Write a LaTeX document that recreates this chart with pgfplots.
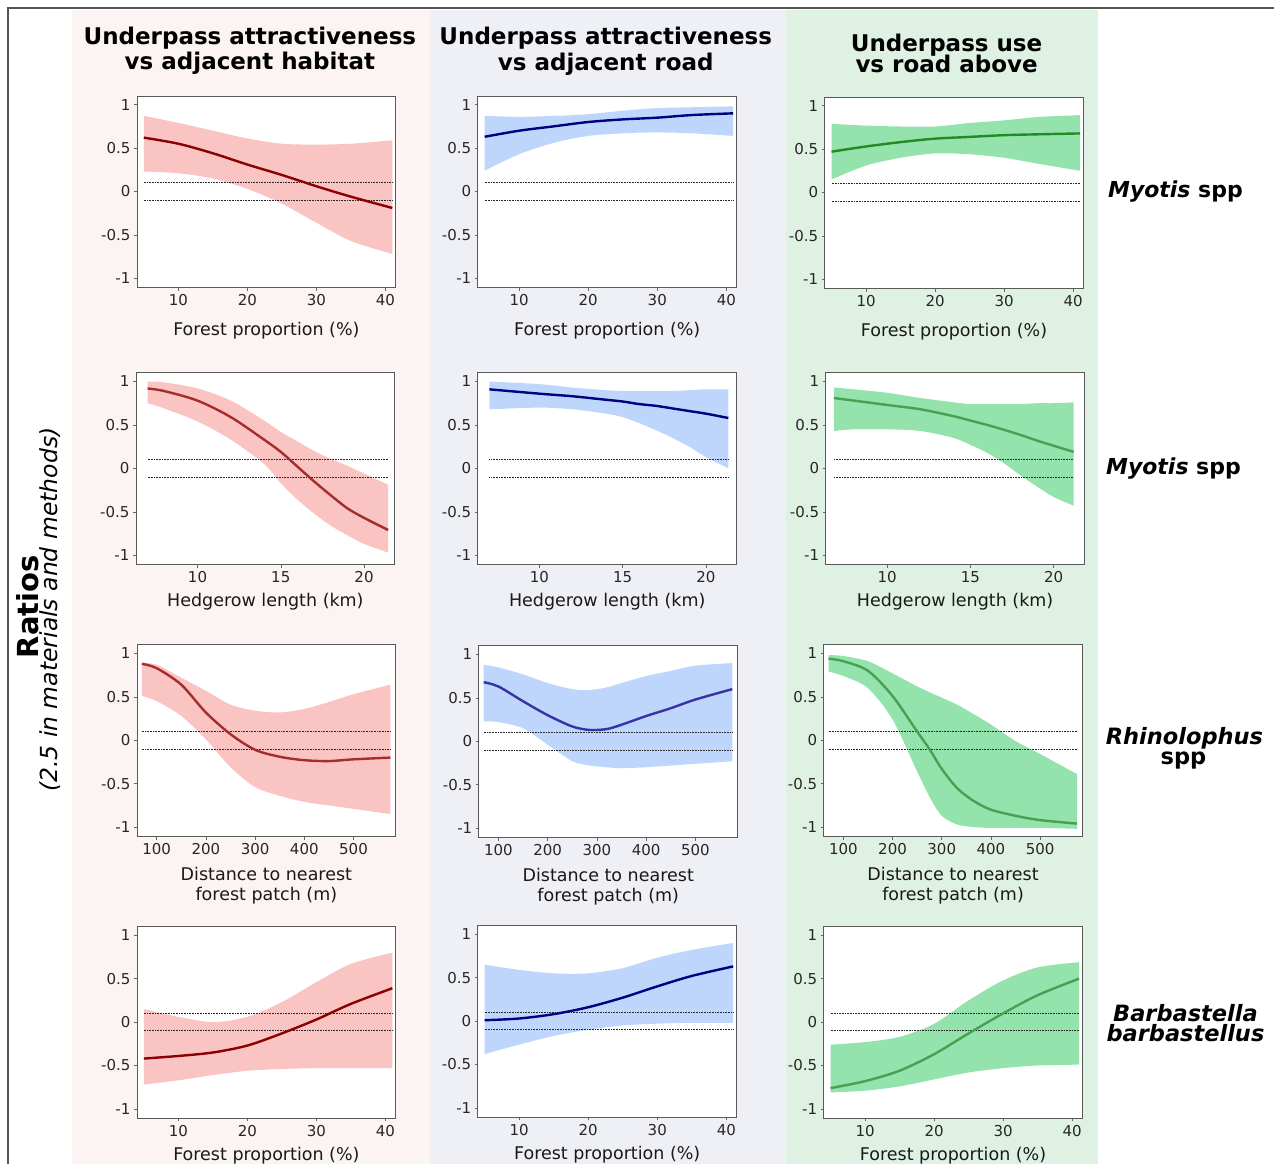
\documentclass[border=0pt]{standalone}
\usepackage{pgfplots}
\pgfplotsset{compat=1.18}
\usepackage{pgfplotstable}
\usepgfplotslibrary{fillbetween}
\usepackage{fontspec}
\setmainfont{DejaVu Sans}

\definecolor{bgA}{RGB}{252,243,243}
\definecolor{bgB}{RGB}{239,240,245}
\definecolor{bgC}{RGB}{223,241,227}
\definecolor{bandA}{RGB}{249,196,194}
\definecolor{bandB}{RGB}{190,214,251}
\definecolor{bandC}{RGB}{148,226,172}
\definecolor{lineA}{RGB}{139,0,0}
\definecolor{lineA2}{RGB}{165,45,45}
\definecolor{lineB}{RGB}{0,0,128}
\definecolor{lineB2}{RGB}{55,50,165}
\definecolor{lineC}{RGB}{34,139,34}
\definecolor{lineC2}{RGB}{72,160,82}
\definecolor{frameC}{RGB}{85,85,85}

\pgfdeclarelayer{bglayer}
\pgfplotsset{
  layers/mylayers/.define layer set={
    bglayer,axis background,axis grid,axis ticks,axis lines,axis tick labels,
    pre main,main,axis descriptions,axis foreground
  }{
    grid style={/pgfplots/on layer=axis grid},
    tick style={/pgfplots/on layer=axis ticks},
    axis line style={/pgfplots/on layer=axis lines},
    label style={/pgfplots/on layer=axis descriptions},
    legend style={/pgfplots/on layer=axis descriptions},
    title style={/pgfplots/on layer=axis descriptions},
    colorbar style={/pgfplots/on layer=axis descriptions},
    ticklabel style={/pgfplots/on layer=axis tick labels},
    axis background@ style={/pgfplots/on layer=axis background},
    3d box foreground style={/pgfplots/on layer=axis foreground},
  },
  set layers=mylayers,
}

% ---------- data: x, lower bound, estimate, upper bound ----------
\pgfplotstableread{
x lo mid hi
5 0.23 0.62 0.87
10 0.21 0.55 0.79
15 0.15 0.44 0.70
20 0.03 0.31 0.61
25 -0.14 0.19 0.55
30 -0.36 0.06 0.54
35 -0.57 -0.06 0.55
41 -0.72 -0.19 0.59
}\tAA
\pgfplotstableread{
x lo mid hi
5 0.24 0.63 0.87
10 0.43 0.70 0.86
15 0.56 0.75 0.87
20 0.64 0.80 0.89
25 0.67 0.83 0.93
30 0.68 0.85 0.96
35 0.67 0.88 0.97
41 0.64 0.90 0.98
}\tAB
\pgfplotstableread{
x lo mid hi
5 0.15 0.47 0.79
10 0.31 0.53 0.77
15 0.40 0.58 0.76
20 0.45 0.62 0.76
25 0.44 0.64 0.80
30 0.40 0.66 0.83
35 0.33 0.67 0.87
41 0.25 0.68 0.89
}\tAC
\pgfplotstableread{
x lo mid hi
7 0.75 0.92 1.00
8 0.69 0.89 0.99
10 0.54 0.78 0.92
12 0.33 0.59 0.78
14 0.05 0.33 0.55
15 -0.17 0.19 0.42
16 -0.36 0.02 0.31
17 -0.52 -0.15 0.20
18 -0.66 -0.31 0.11
19 -0.77 -0.46 0.03
20 -0.87 -0.57 -0.06
21.45 -0.97 -0.71 -0.19
}\tBA
\pgfplotstableread{
x lo mid hi
7 0.68 0.91 1.00
10 0.70 0.86 0.97
12 0.68 0.83 0.93
14 0.63 0.79 0.90
15 0.59 0.77 0.89
16 0.52 0.74 0.89
17 0.44 0.72 0.89
18 0.35 0.69 0.89
19 0.25 0.66 0.90
20 0.13 0.63 0.91
21.35 0.00 0.58 0.91
}\tBB
\pgfplotstableread{
x lo mid hi
6.8 0.43 0.81 0.93
8 0.45 0.78 0.91
10 0.45 0.73 0.87
12 0.43 0.68 0.81
14 0.35 0.60 0.76
15 0.27 0.55 0.74
16 0.18 0.50 0.74
17 0.06 0.445 0.74
18 -0.08 0.385 0.74
19 -0.21 0.32 0.75
20 -0.33 0.26 0.75
21.2 -0.43 0.19 0.76
}\tBC
\pgfplotstableread{
x lo mid hi
70 0.51 0.88 0.89
100 0.45 0.83 0.87
150 0.28 0.64 0.72
200 0.01 0.32 0.57
250 -0.31 0.07 0.41
300 -0.54 -0.11 0.34
350 -0.64 -0.19 0.32
400 -0.71 -0.23 0.36
450 -0.75 -0.24 0.44
500 -0.79 -0.22 0.53
575 -0.85 -0.20 0.64
}\tCA
\pgfplotstableread{
x lo mid hi
70 0.23 0.68 0.88
100 0.22 0.63 0.85
150 0.15 0.46 0.77
200 -0.04 0.30 0.67
250 -0.23 0.17 0.60
285 -0.28 0.13 0.59
320 -0.30 0.14 0.62
350 -0.31 0.19 0.67
400 -0.30 0.29 0.75
450 -0.28 0.38 0.81
500 -0.26 0.48 0.87
575 -0.23 0.60 0.90
}\tCB
\pgfplotstableread{
x lo mid hi
70 0.79 0.94 0.98
100 0.74 0.91 0.97
150 0.60 0.80 0.91
200 0.24 0.51 0.77
250 -0.36 0.10 0.62
276 -0.66 -0.11 0.55
300 -0.87 -0.33 0.49
331 -0.97 -0.55 0.41
365 -1.00 -0.70 0.30
400 -1.01 -0.80 0.18
450 -1.01 -0.87 -0.01
500 -1.01 -0.92 -0.16
575 -1.02 -0.96 -0.39
}\tCC
\pgfplotstableread{
x lo mid hi
5 -0.72 -0.42 0.15
10 -0.67 -0.39 0.06
15 -0.61 -0.35 0.00
20 -0.56 -0.27 0.06
25 -0.54 -0.13 0.23
30 -0.53 0.03 0.46
35 -0.53 0.21 0.67
41 -0.53 0.39 0.80
}\tDA
\pgfplotstableread{
x lo mid hi
5 -0.38 0.01 0.65
10 -0.27 0.03 0.59
15 -0.17 0.08 0.55
20 -0.10 0.16 0.55
25 -0.05 0.27 0.61
30 -0.03 0.40 0.73
35 -0.02 0.52 0.82
41 -0.02 0.63 0.90
}\tDB
\pgfplotstableread{
x lo mid hi
5 -0.81 -0.76 -0.26
10 -0.79 -0.68 -0.23
15 -0.74 -0.56 -0.17
20 -0.66 -0.37 -0.02
25 -0.58 -0.13 0.25
30 -0.53 0.10 0.48
35 -0.50 0.31 0.63
41 -0.49 0.50 0.69
}\tDC

\pgfplotsset{
  pan/.style={
    scale only axis, width=259pt, height=192pt, anchor=north west,
    ymin=-1.11, ymax=1.10,
    ytick={-1,-0.5,0,0.5,1}, yticklabels={-1,-0.5,0,0.5,1},
    tick align=outside, xtick pos=bottom, ytick pos=left,
    major tick length=3pt,
    tick style={black!60, line width=0.5pt},
    axis line style={black!65, line width=0.8pt},
    axis background/.style={fill=white},
    ticklabel style={font=\fontsize{15}{17}\selectfont, text=black!85},
    xlabel style={font=\fontsize{17.5}{20}\selectfont, align=center,
      at={(axis description cs:0.5,0)}, anchor=center, text=black!90},
  },
  fp/.style={xmin=4, xmax=41.5, xtick={10,20,30,40}, xticklabels={10,20,30,40}},
  hl/.style={xmin=6.3, xmax=21.85, xtick={10,15,20}, xticklabels={10,15,20}},
  dn/.style={xmin=60, xmax=586, xtick={100,200,300,400,500}, xticklabels={100,200,300,400,500}},
}

\newcommand{\bandplot}[5]{%
  \addplot[name path=U, draw=none, smooth] table[x=x,y=hi]{#1};
  \addplot[name path=L, draw=none, smooth] table[x=x,y=lo]{#1};
  \addplot[fill=#2, draw=none] fill between[of=U and L];
  \addplot[black!85, line width=0.6pt, dash pattern=on 0.8pt off 0.8pt] coordinates {(#4,0.1) (#5,0.1)};
  \addplot[black!85, line width=0.6pt, dash pattern=on 0.8pt off 0.8pt] coordinates {(#4,-0.1) (#5,-0.1)};
  \addplot[#3, line width=2.4pt, smooth] table[x=x,y=mid]{#1};
}

\begin{document}
\begin{tikzpicture}
\begin{pgfonlayer}{bglayer}
\fill[white] (0pt,0pt) rectangle (1275pt,-1165pt);
\fill[bgA] (72pt,-10pt) rectangle (430pt,-1165pt);
\fill[bgB] (430pt,-10pt) rectangle (786pt,-1165pt);
\fill[bgC] (786pt,-10pt) rectangle (1098pt,-1165pt);
\draw[frameC, line width=1.2pt] (8pt,-1165pt) -- (8pt,-8pt) -- (1275pt,-8pt);
\end{pgfonlayer}

% column titles
\node[anchor=base, font=\fontsize{23}{26}\selectfont\bfseries] at (250pt,-45pt) {Underpass attractiveness};
\node[anchor=base, font=\fontsize{23}{26}\selectfont\bfseries] at (250pt,-70pt) {vs adjacent habitat};
\node[anchor=base, font=\fontsize{23}{26}\selectfont\bfseries] at (606pt,-45pt) {Underpass attractiveness};
\node[anchor=base, font=\fontsize{23}{26}\selectfont\bfseries] at (606pt,-71pt) {vs adjacent road};
\node[anchor=base, font=\fontsize{23}{26}\selectfont\bfseries] at (947pt,-52pt) {Underpass use};
\node[anchor=base, font=\fontsize{23}{26}\selectfont\bfseries] at (947pt,-73pt) {vs road above};

% row labels
\node[anchor=base, inner sep=0pt, font=\fontsize{22}{24}\selectfont\bfseries] at (1176pt,-198pt) {\textit{Myotis} spp};
\node[anchor=base, inner sep=0pt, font=\fontsize{22}{24}\selectfont\bfseries] at (1174pt,-475pt) {\textit{Myotis} spp};
\node[anchor=base, inner sep=0pt, font=\fontsize{22.5}{24}\selectfont\bfseries\itshape] at (1185pt,-745pt) {Rhinolophus};
\node[anchor=base, inner sep=0pt, font=\fontsize{22.5}{24}\selectfont\bfseries] at (1184pt,-765pt) {spp};
\node[anchor=base, inner sep=0pt, font=\fontsize{22.5}{24}\selectfont\bfseries\itshape] at (1186pt,-1022pt) {Barbastella};
\node[anchor=base, inner sep=0pt, font=\fontsize{22.5}{24}\selectfont\bfseries\itshape] at (1186pt,-1042pt) {barbastellus};

% y axis title
\node[anchor=base, inner sep=0pt, rotate=90, font=\fontsize{29}{30}\selectfont\bfseries] at (39pt,-607pt) {Ratios};
\node[anchor=base, inner sep=0pt, rotate=90, font=\fontsize{23.5}{26}\selectfont\itshape] at (58pt,-610pt) {(2.5 in materials and methods)};

% ---------- row 1 ----------
\begin{axis}[pan, fp, at={(137pt,-96pt)}, xlabel={Forest proportion (\%)}, xlabel style={yshift=-43pt}]
\bandplot{\tAA}{bandA}{lineA}{5}{41}
\end{axis}
\begin{axis}[pan, fp, at={(478pt,-96pt)}, xlabel={Forest proportion (\%)}, xlabel style={yshift=-43pt}]
\bandplot{\tAB}{bandB}{lineB}{5}{41}
\end{axis}
\begin{axis}[pan, fp, at={(825pt,-97pt)}, xlabel={Forest proportion (\%)}, xlabel style={yshift=-43pt}]
\bandplot{\tAC}{bandC}{lineC}{5}{41}
\end{axis}

% ---------- row 2 ----------
\begin{axis}[pan, hl, at={(136pt,-373pt)}, xlabel={Hedgerow length (km)}, xlabel style={yshift=-37pt}]
\bandplot{\tBA}{bandA}{lineA2}{7}{21.45}
\end{axis}
\begin{axis}[pan, hl, at={(478pt,-373pt)}, xlabel={Hedgerow length (km)}, xlabel style={yshift=-37pt}]
\bandplot{\tBB}{bandB}{lineB}{7}{21.35}
\end{axis}
\begin{axis}[pan, hl, at={(826pt,-373pt)}, xlabel={Hedgerow length (km)}, xlabel style={yshift=-37pt}]
\bandplot{\tBC}{bandC}{lineC2}{6.8}{21.2}
\end{axis}

% ---------- row 3 ----------
\begin{axis}[pan, dn, at={(137pt,-645pt)}, xlabel={Distance to nearest\\forest patch (m)}, xlabel style={yshift=-49pt}]
\bandplot{\tCA}{bandA}{lineA2}{70}{575}
\end{axis}
\begin{axis}[pan, dn, at={(479pt,-646pt)}, xlabel={Distance to nearest\\forest patch (m)}, xlabel style={yshift=-49pt}]
\bandplot{\tCB}{bandB}{lineB2}{70}{575}
\end{axis}
\begin{axis}[pan, dn, at={(824pt,-645pt)}, xlabel={Distance to nearest\\forest patch (m)}, xlabel style={yshift=-49pt}]
\bandplot{\tCC}{bandC}{lineC2}{70}{575}
\end{axis}

% ---------- row 4 ----------
\begin{axis}[pan, fp, at={(137pt,-927pt)}, xlabel={Forest proportion (\%)}, xlabel style={yshift=-37pt}]
\bandplot{\tDA}{bandA}{lineA}{5}{41}
\end{axis}
\begin{axis}[pan, fp, at={(478pt,-926pt)}, xlabel={Forest proportion (\%)}, xlabel style={yshift=-37pt}]
\bandplot{\tDB}{bandB}{lineB}{5}{41}
\end{axis}
\begin{axis}[pan, fp, at={(824pt,-927pt)}, xlabel={Forest proportion (\%)}, xlabel style={yshift=-37pt}]
\bandplot{\tDC}{bandC}{lineC2}{5}{41}
\end{axis}
\end{tikzpicture}
\end{document}
